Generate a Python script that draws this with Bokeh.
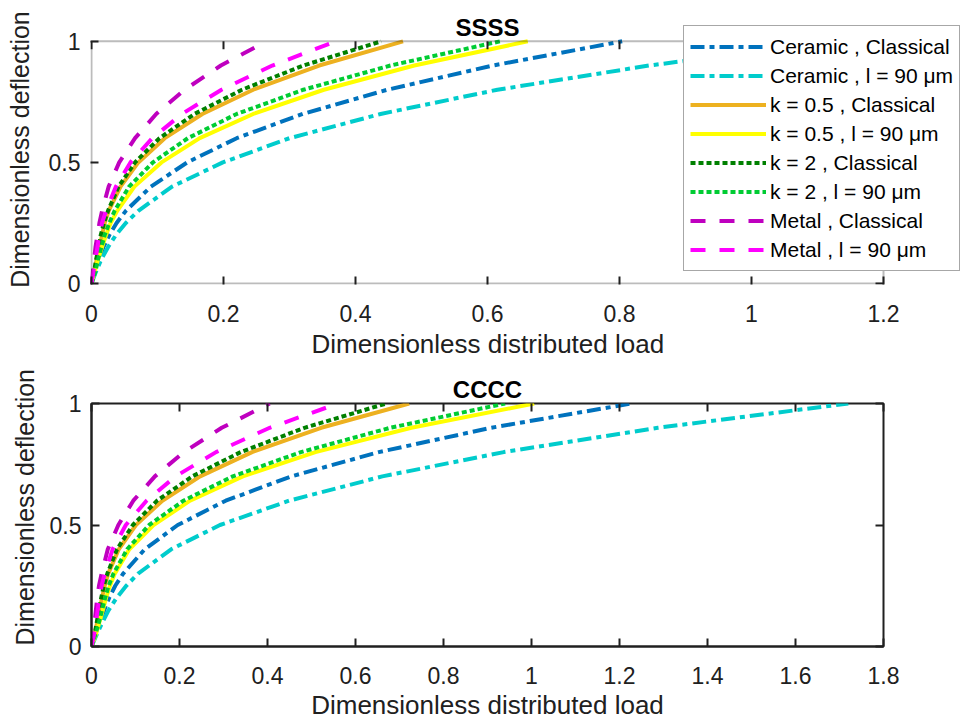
from bokeh.plotting import figure
from bokeh.models import (Range1d, FixedTicker, CustomJSTickFormatter, LinearAxis,
                          Legend, LegendItem, BoxAnnotation, Label, Title)
from bokeh.layouts import column
from bokeh.embed import file_html
from bokeh.resources import INLINE

# ---------------- data ----------------
deflection = [0, 0.05, 0.1, 0.15, 0.2, 0.25, 0.3, 0.4, 0.5, 0.6, 0.7, 0.8, 0.9, 1.0]

# SSSS : dimensionless distributed load for each deflection level
ssss_ceramic_classical = [0, 0.005, 0.011, 0.018, 0.027, 0.038, 0.052, 0.090, 0.145, 0.220, 0.320, 0.448, 0.608, 0.804]
ssss_ceramic_l90 = [0, 0.007, 0.015, 0.025, 0.037, 0.052, 0.071, 0.122, 0.199, 0.300, 0.438, 0.615, 0.845, 1.128]
ssss_k05_classical = [0, 0.004, 0.008, 0.012, 0.016, 0.020, 0.026, 0.044, 0.071, 0.111, 0.168, 0.245, 0.345, 0.472]
ssss_k05_l90 = [0, 0.005, 0.010, 0.016, 0.022, 0.029, 0.039, 0.065, 0.106, 0.164, 0.245, 0.352, 0.489, 0.661]
ssss_k2_classical = [0, 0.004, 0.007, 0.011, 0.014, 0.019, 0.025, 0.041, 0.066, 0.103, 0.156, 0.228, 0.321, 0.439]
ssss_k2_l90 = [0, 0.006, 0.010, 0.015, 0.020, 0.027, 0.035, 0.057, 0.093, 0.146, 0.220, 0.321, 0.453, 0.619]
ssss_metal_classical = [0, 0.002, 0.004, 0.006, 0.009, 0.012, 0.016, 0.026, 0.042, 0.066, 0.098, 0.141, 0.196, 0.265]
ssss_metal_l90 = [0, 0.003, 0.006, 0.009, 0.012, 0.016, 0.022, 0.037, 0.059, 0.092, 0.137, 0.197, 0.274, 0.370]

# CCCC
cccc_ceramic_classical = [0, 0.010, 0.019, 0.029, 0.040, 0.054, 0.072, 0.121, 0.196, 0.305, 0.454, 0.653, 0.908, 1.227]
cccc_ceramic_l90 = [0, 0.012, 0.025, 0.039, 0.057, 0.079, 0.106, 0.181, 0.292, 0.449, 0.661, 0.937, 1.287, 1.720]
cccc_k05_classical = [0, 0.007, 0.013, 0.018, 0.024, 0.030, 0.038, 0.062, 0.101, 0.161, 0.247, 0.365, 0.522, 0.722]
cccc_k05_l90 = [0, 0.010, 0.018, 0.026, 0.033, 0.042, 0.053, 0.086, 0.141, 0.224, 0.344, 0.509, 0.727, 1.006]
cccc_k2_classical = [0, 0.007, 0.012, 0.017, 0.022, 0.028, 0.036, 0.058, 0.094, 0.149, 0.229, 0.339, 0.484, 0.670]
cccc_k2_l90 = [0, 0.009, 0.017, 0.024, 0.031, 0.039, 0.050, 0.081, 0.131, 0.209, 0.321, 0.476, 0.679, 0.940]
cccc_metal_classical = [0, 0.004, 0.007, 0.010, 0.013, 0.017, 0.023, 0.037, 0.061, 0.095, 0.144, 0.210, 0.296, 0.405]
cccc_metal_l90 = [0, 0.006, 0.010, 0.014, 0.018, 0.023, 0.030, 0.048, 0.078, 0.125, 0.191, 0.283, 0.405, 0.560]

series_labels = ["Ceramic , Classical", "Ceramic , l = 90 \u03bcm",
                 "k = 0.5 , Classical", "k = 0.5 , l = 90 \u03bcm",
                 "k = 2 , Classical", "k = 2 , l = 90 \u03bcm",
                 "Metal , Classical", "Metal , l = 90 \u03bcm"]

ssss_loads = [ssss_ceramic_classical, ssss_ceramic_l90, ssss_k05_classical, ssss_k05_l90,
              ssss_k2_classical, ssss_k2_l90, ssss_metal_classical, ssss_metal_l90]
cccc_loads = [cccc_ceramic_classical, cccc_ceramic_l90, cccc_k05_classical, cccc_k05_l90,
              cccc_k2_classical, cccc_k2_l90, cccc_metal_classical, cccc_metal_l90]

x_ticks_ssss = [0, 0.2, 0.4, 0.6, 0.8, 1.0, 1.2]
x_ticks_cccc = [0, 0.2, 0.4, 0.6, 0.8, 1.0, 1.2, 1.4, 1.6, 1.8]
y_ticks = [0, 0.5, 1.0]

x_label = "Dimensionless distributed load"
y_label = "Dimensionless deflection"

# ---------------- styles ----------------
colors = ["#0072BD", "#00CCCC", "#EDB120", "#FFFF00", "#008000", "#00CC33", "#BF00BF", "#FF00FF"]
dashes = ["14 5 5 5", "14 5 5 5", "solid", "solid", "5 3", "5 3", "15 14", "15 14"]

FONT = "Liberation Sans"
AX = "#202020"
W = 974
fmt = CustomJSTickFormatter(code="return String(Math.round(tick*10)/10);")
empty = CustomJSTickFormatter(code="return '';")


def style_axes(p):
    for ax in (p.xaxis, p.yaxis):
        ax.formatter = fmt
        ax.axis_line_color = AX
        ax.axis_line_width = 2
        ax.major_tick_line_color = AX
        ax.major_tick_line_width = 2
        ax.major_tick_in = 8
        ax.major_tick_out = 0
        ax.minor_tick_line_color = None
        ax.major_label_text_font = FONT
        ax.major_label_text_font_size = "23px"
        ax.major_label_text_color = AX
        ax.axis_label_text_font = FONT
        ax.axis_label_text_font_style = "normal"
        ax.axis_label_text_color = AX
    p.xaxis.axis_label_text_font_size = "26px"
    p.yaxis.axis_label_text_font_size = "25px"
    p.xaxis.major_label_standoff = 20
    p.xaxis.axis_label_standoff = 3
    p.yaxis.major_label_standoff = 10
    p.yaxis.axis_label_standoff = 12
    p.grid.visible = False
    p.background_fill_color = "white"
    p.border_fill_color = "white"


def add_lines(p, loads):
    items = []
    for lab, xs, c, d in zip(series_labels, loads, colors, dashes):
        r = p.line(xs, deflection, line_color=c, line_width=4, line_dash=d)
        items.append(LegendItem(label=lab, renderers=[r]))
    return items


# ---------------- top panel: SSSS ----------------
# The frame is made larger than the axes box so that the legend can stick out
# of the box as in the reference; the box itself is drawn at 0..1.2 x 0..1.
PX_X = 660.0   # pixels per unit load
PX_Y = 244.0   # pixels per unit deflection
H1 = 360
left1, right1, top1, bottom1 = 90, 2, 14, 74
fw1 = W - left1 - right1
fh1 = H1 - top1 - bottom1
x0 = -1.0 / PX_X
y0 = -1.0 / PX_Y
p1 = figure(width=W, height=H1, output_backend="svg", toolbar_location=None,
            x_range=Range1d(x0, x0 + fw1 / PX_X), y_range=Range1d(y0, y0 + fh1 / PX_Y),
            min_border_left=left1, min_border_right=right1,
            min_border_top=top1, min_border_bottom=bottom1, frame_align=False)
p1.xaxis.ticker = FixedTicker(ticks=x_ticks_ssss)
p1.yaxis.ticker = FixedTicker(ticks=y_ticks)
style_axes(p1)
p1.yaxis.axis_label = y_label
p1.xaxis.axis_line_color = None
p1.yaxis.axis_line_color = None
p1.outline_line_color = None
# x label centred under the axes box (not under the wider frame)
p1.add_layout(Title(text=x_label, align="left", offset=221, standoff=4,
                    text_font=FONT, text_font_size="26px", text_font_style="normal",
                    text_color=AX), "below")

items1 = add_lines(p1, ssss_loads)

xmax1 = x_ticks_ssss[-1]
ymax1 = y_ticks[-1]
# mirrored ticks on the top and right edges of the box
p1.segment(x0=x_ticks_ssss, y0=[ymax1] * len(x_ticks_ssss),
           x1=x_ticks_ssss, y1=[ymax1 - 8 / PX_Y] * len(x_ticks_ssss),
           line_color=AX, line_width=2)
p1.segment(x0=[xmax1] * len(y_ticks), y0=y_ticks,
           x1=[xmax1 - 8 / PX_X] * len(y_ticks), y1=y_ticks,
           line_color=AX, line_width=2)
p1.add_layout(BoxAnnotation(left=0, right=xmax1, bottom=0, top=ymax1,
                            fill_alpha=0, line_color=AX, line_width=2))
p1.add_layout(Label(x=xmax1 / 2, y=ymax1, y_offset=14, text="SSSS",
                    text_align="center", text_baseline="middle",
                    text_font=FONT, text_font_size="24px", text_font_style="bold",
                    text_color="black"))

leg = Legend(items=items1, location=(593, 13))
leg.label_text_font = FONT
leg.label_text_font_size = "21px"
leg.label_text_color = "black"
leg.label_height = 29
leg.glyph_height = 29
leg.glyph_width = 76
leg.label_standoff = 4
leg.spacing = 0
leg.padding = 6
leg.margin = 0
leg.border_line_color = "#505050"
leg.border_line_width = 1
leg.background_fill_color = "white"
leg.background_fill_alpha = 1.0
p1.add_layout(leg)

# ---------------- bottom panel: CCCC ----------------
H2 = 362
p2 = figure(width=W, height=H2, output_backend="svg", toolbar_location=None,
            x_range=Range1d(0, x_ticks_cccc[-1]), y_range=Range1d(0, y_ticks[-1]),
            min_border_left=91, min_border_right=91, min_border_top=43, min_border_bottom=75,
            frame_align=False)
p2.title.text = "CCCC"
p2.title.align = "center"
p2.title.text_font = FONT
p2.title.text_font_size = "24px"
p2.title.text_font_style = "bold"
p2.title.text_color = "black"
p2.title.standoff = 2
p2.xaxis.ticker = FixedTicker(ticks=x_ticks_cccc)
p2.yaxis.ticker = FixedTicker(ticks=y_ticks)
style_axes(p2)
p2.xaxis.axis_label = x_label
p2.outline_line_color = AX
p2.outline_line_width = 2
# y label placed like the reference (slightly above the centre of the box)
p2.add_layout(Title(text=y_label, align="left", offset=1, standoff=15,
                    text_font=FONT, text_font_size="25px", text_font_style="normal",
                    text_color=AX), "left")

top_ax = LinearAxis(ticker=FixedTicker(ticks=x_ticks_cccc), formatter=empty,
                    axis_line_color=None, major_tick_in=8, major_tick_out=0,
                    major_tick_line_color=AX, major_tick_line_width=2,
                    minor_tick_line_color=None, major_label_standoff=0,
                    major_label_text_font_size="1px")
right_ax = LinearAxis(ticker=FixedTicker(ticks=y_ticks), formatter=empty,
                      axis_line_color=None, major_tick_in=8, major_tick_out=0,
                      major_tick_line_color=AX, major_tick_line_width=2,
                      minor_tick_line_color=None, major_label_standoff=0,
                      major_label_text_font_size="1px")
p2.add_layout(top_ax, "above")
p2.add_layout(right_ax, "right")
add_lines(p2, cccc_loads)

layout = column(p1, p2, spacing=0)
open("out.html", "w").write(file_html(layout, INLINE))
